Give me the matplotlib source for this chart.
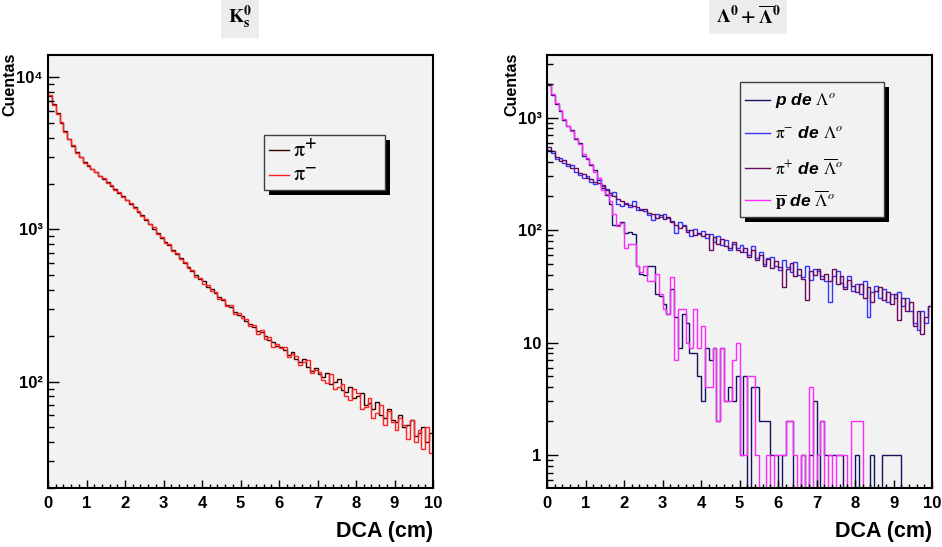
import numpy as np
import matplotlib.pyplot as plt
from matplotlib.lines import Line2D
from matplotlib.patches import Rectangle
from matplotlib.ticker import FixedLocator, LogLocator, MultipleLocator, NullFormatter

# 100 bins de 0 a 10 cm
edges = np.linspace(0, 10, 101)

# K0s
k_pip = [7500, 6700, 5800, 5000, 4450, 3950, 3550, 3250, 2980, 2780,
         2620, 2500, 2380, 2260, 2150, 2050, 1940, 1830, 1730, 1650,
         1570, 1480, 1400, 1310, 1240, 1150, 1090, 1010, 950, 880,
         830, 790, 735, 690, 650, 600, 570, 530, 500, 470,
         455, 420, 405, 380, 360, 345, 320, 310, 285, 275,
         268, 252, 240, 228, 215, 212, 198, 188, 182, 172,
         170, 162, 150, 156, 140, 134, 140, 124, 118, 122,
         112, 108, 114, 96, 100, 104, 88, 86, 92, 78,
         80, 84, 70, 72, 66, 74, 60, 58, 66, 56,
         54, 60, 50, 52, 56, 44, 46, 50, 40, 46]
k_pim = [7700, 6600, 5750, 5050, 4400, 3900, 3600, 3200, 3000, 2750,
         2650, 2480, 2400, 2250, 2170, 2030, 1960, 1820, 1750, 1640,
         1560, 1500, 1390, 1320, 1230, 1170, 1080, 1030, 940, 890,
         820, 800, 720, 700, 640, 610, 560, 540, 490, 480,
         440, 430, 395, 390, 350, 350, 315, 318, 280, 282,
         262, 258, 232, 235, 205, 218, 190, 195, 170, 178,
         166, 170, 146, 152, 148, 128, 134, 138, 114, 120,
         116, 102, 98, 112, 90, 92, 96, 80, 76, 90,
         84, 66, 68, 78, 58, 62, 70, 52, 64, 54,
         48, 58, 52, 42, 56, 40, 48, 36, 50, 34]

# Lambda0 + anti-Lambda0
l_p = [1950, 1600, 1320, 1150, 960, 840, 780, 640, 600, 460,
       430, 380, 345, 280, 235, 205, 170, 110, 112, 118,
       95, 96, 92, 48, 41, 40, 48, 48, 27, 26,
       22, 18, 30, 17, 9, 18, 15, 8, 8, 5,
       3, 9, 7, 9, 2, 9, 3, 4, 3, 5,
       1, 5, 0, 4, 4, 2, 2, 2, 1, 1,
       0, 1, 2, 2, 0, 0, 1, 0, 1, 3,
       0, 2, 1, 1, 1, 1, 1, 0, 0, 0,
       1, 0, 0, 0, 1, 0, 0, 1, 1, 1,
       1, 1, 0, 0, 0, 0, 0, 0, 0, 0]
l_pim = [520, 480, 430, 440, 395, 370, 380, 330, 310, 290,
         300, 270, 255, 290, 245, 230, 205, 220, 170, 165,
         175, 160, 180, 150, 155, 148, 135, 122, 140, 130,
         138, 128, 120, 95, 118, 110, 100, 88, 102, 92,
         98, 85, 92, 78, 88, 74, 82, 66, 76, 70,
         74, 64, 60, 72, 56, 64, 50, 57, 58, 48,
         44, 54, 47, 42, 52, 40, 38, 48, 36, 45,
         43, 39, 35, 23, 39, 43, 34, 31, 39, 29,
         33, 27, 35, 17, 28, 32, 25, 30, 23, 27,
         25, 28, 21, 25, 19, 15, 13, 19, 15, 21]
l_pip = [550, 500, 450, 410, 420, 385, 360, 355, 320, 315,
         290, 285, 270, 260, 250, 225, 215, 200, 190, 180,
         170, 168, 165, 160, 150, 155, 142, 140, 128, 135,
         125, 130, 118, 112, 105, 108, 96, 100, 90, 95,
         88, 92, 67, 86, 76, 84, 72, 70, 78, 66,
         64, 70, 58, 66, 54, 60, 48, 55, 46, 53,
         47, 31, 45, 51, 39, 45, 37, 24, 43, 40,
         45, 37, 41, 35, 45, 33, 39, 30, 36, 32,
         28, 33, 25, 31, 23, 29, 31, 24, 28, 22,
         27, 16, 25, 19, 23, 14, 19, 12, 17, 21]
l_pbar = [2000, 1620, 1340, 1170, 980, 850, 760, 660, 580, 470,
          440, 390, 330, 290, 225, 210, 180, 138, 108, 116,
          70, 75, 76, 48, 42, 48, 35, 35, 41, 27,
          20, 18, 38, 7, 20, 20, 10, 9, 20, 9,
          14, 4, 4, 9, 2, 9, 3, 3, 7, 10,
          1, 1, 5, 5, 1, 0, 0, 1, 0, 1,
          1, 1, 2, 2, 1, 0, 1, 0, 4, 0,
          1, 2, 0, 1, 0, 1, 1, 1, 0, 2,
          2, 2, 0, 0, 0, 0, 0, 0, 0, 0,
          0, 0, 0, 0, 0, 0, 0, 0, 0, 0]

W, H = 942, 547
def fx(px): return px / W
def fy(py): return 1 - py / H

SANS = ['Liberation Sans', 'DejaVu Sans']

fig = plt.figure(figsize=(W / 100, H / 100), dpi=100)
fig.patch.set_facecolor('white')
axL = fig.add_axes([fx(48), fy(488), 385 / W, 433 / H])
axR = fig.add_axes([fx(547), fy(488), 385 / W, 433 / H])

def style(ax, ylim, ticks, labels):
    ax.set_facecolor('#f2f2f2')
    ax.set_yscale('log', nonpositive='clip')
    ax.set_xlim(0, 10)
    ax.set_ylim(*ylim)
    ax.xaxis.set_major_locator(MultipleLocator(1))
    ax.xaxis.set_minor_locator(MultipleLocator(0.2))
    ax.yaxis.set_major_locator(FixedLocator(ticks))
    ax.yaxis.set_minor_locator(LogLocator(base=10, subs=np.arange(2, 10)))
    ax.yaxis.set_minor_formatter(NullFormatter())
    ax.set_yticklabels(labels)
    ax.set_xticks(range(11))
    ax.set_xticklabels([str(i) for i in range(11)])
    for lab in ax.get_xticklabels() + ax.get_yticklabels():
        lab.set_family(SANS)
        lab.set_fontweight('bold')
        lab.set_fontsize(12)
    ax.tick_params(axis='both', which='both', direction='in', color='black')
    ax.tick_params(axis='x', which='major', length=6, width=1, pad=6)
    ax.tick_params(axis='x', which='minor', length=3, width=1)
    ax.tick_params(axis='y', which='major', length=8, width=1, pad=4)
    ax.tick_params(axis='y', which='minor', length=4, width=1)
    for s in ax.spines.values():
        s.set_linewidth(1.5)
        s.set_color('black')

style(axL, (20, 14000), [100, 1000, 10000], ['10²', '10³', '10⁴'])
style(axR, (0.51, 3600), [1, 10, 100, 1000], ['1', '10', '10²', '10³'])

c_kpip, c_kpim = '#3a0000', '#ff2020'
axL.stairs(k_pip, edges, baseline=None, color=c_kpip, lw=1.0)
axL.stairs(k_pim, edges, baseline=None, color=c_kpim, lw=1.0)

c_p, c_pim, c_pip, c_pbar = '#14145e', '#3636ff', '#6a0a5e', '#ff28ff'
axR.stairs(l_p, edges, baseline=None, color=c_p, lw=1.0)
axR.stairs(l_pim, edges, baseline=None, color=c_pim, lw=1.0)
axR.stairs(l_pip, edges, baseline=None, color=c_pip, lw=1.0)
axR.stairs(l_pbar, edges, baseline=None, color=c_pbar, lw=1.0)

# titulos
tbox = dict(facecolor='#ececec', edgecolor='none', boxstyle='square,pad=0.35')
fig.text(fx(240), fy(17), r'$\mathbf{K_s^0}$', ha='center', va='center',
         fontsize=14, math_fontfamily='stix', bbox=tbox)
fig.text(fx(748), fy(16), r'$\mathbf{\Lambda^0 + \overline{\Lambda}^0}$', ha='center',
         va='center', fontsize=14, math_fontfamily='stix', bbox=tbox)

# ejes
for px in (10, 512):
    fig.text(fx(px), fy(53), 'Cuentas', rotation=90, ha='center', va='top',
             fontsize=11.5, fontweight='bold', family=SANS)
for px in (433, 932):
    fig.text(fx(px), fy(532), 'DCA (cm)', ha='right', va='center',
             fontsize=15.5, fontweight='bold', family=SANS)

def box_legend(x0, y0, x1, y1, ys, entries, fs, weight, style_, lx0, lx1, tx):
    fig.add_artist(Rectangle((fx(x0 + 5), fy(y1 + 5)), (x1 - x0) / W, (y1 - y0) / H,
                             transform=fig.transFigure, facecolor='black', edgecolor='none'))
    fig.add_artist(Rectangle((fx(x0), fy(y1)), (x1 - x0) / W, (y1 - y0) / H,
                             transform=fig.transFigure, facecolor='#f2f2f2',
                             edgecolor='#404040', lw=1))
    for yc, (label, color) in zip(ys, entries):
        fig.add_artist(Line2D([fx(lx0), fx(lx1)], [fy(yc), fy(yc)], color=color, lw=1,
                              transform=fig.transFigure))
        fig.text(fx(tx), fy(yc), label, ha='left', va='center', fontsize=fs,
                 fontweight=weight, fontstyle=style_, family=SANS, math_fontfamily='stix')

box_legend(264, 135, 385, 190, [150, 175],
           [(r'$\mathrm{\pi}^{\mathbf{+}}$', c_kpip), (r'$\mathrm{\pi}^{\mathbf{-}}$', c_kpim)],
           16, 'normal', 'normal', 269, 289, 293)

box_legend(740, 82, 884, 217, [100, 133, 168, 200],
           [(r'p de $\Lambda^{\mathit{o}}$', c_p),
            (r'$\mathrm{\pi}^{-}$ de $\Lambda^{\mathit{o}}$', c_pim),
            (r'$\mathrm{\pi}^{+}$ de $\overline{\Lambda}^{\mathit{o}}$', c_pip),
            (r'$\overline{\mathbf{p}}$ de $\overline{\Lambda}^{\mathit{o}}$', c_pbar)],
           12.5, 'bold', 'italic', 745, 770, 775)

fig.savefig('out.png', dpi=100)
